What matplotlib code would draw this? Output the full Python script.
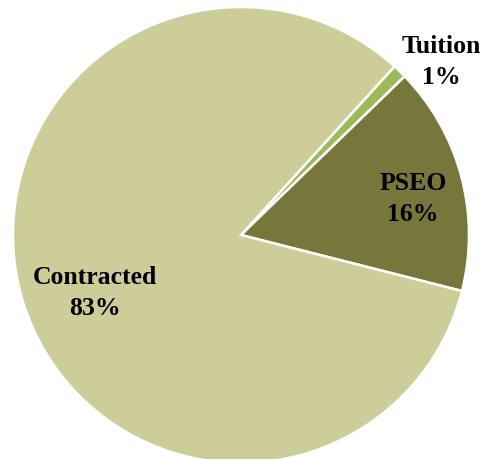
import matplotlib.pyplot as plt

labels = ['Tuition', 'PSEO', 'Contracted']
values = [1.0, 16.2, 82.8]
pct_text = ['1%', '16%', '83%']
colors = ['#9BBB59', '#77763B', '#CDCD9A']

# label centres, in pie-radius units
label_pos = [(0.877, 0.763), (0.754, 0.162), (-0.640, -0.250)]

fig = plt.figure(figsize=(4.87, 4.60), dpi=100)
ax = fig.add_axes([0, 0, 1, 1])

ax.pie(values, colors=colors, startangle=47.7, counterclock=False,
       radius=1.0, wedgeprops=dict(edgecolor='white', linewidth=1.8))

for name, pct, (x, y) in zip(labels, pct_text, label_pos):
    ax.text(x, y, name + '\n' + pct, ha='center', va='center',
            family='Liberation Serif', fontweight='bold', fontsize=18.5,
            linespacing=1.45)

# pie centre at (241, 236) px, radius 228 px
ax.set_xlim(-241 / 228, (487 - 241) / 228)
ax.set_ylim(-(460 - 236) / 228, 236 / 228)
ax.set_aspect('auto')
ax.axis('off')

fig.savefig('out.png', dpi=100)
